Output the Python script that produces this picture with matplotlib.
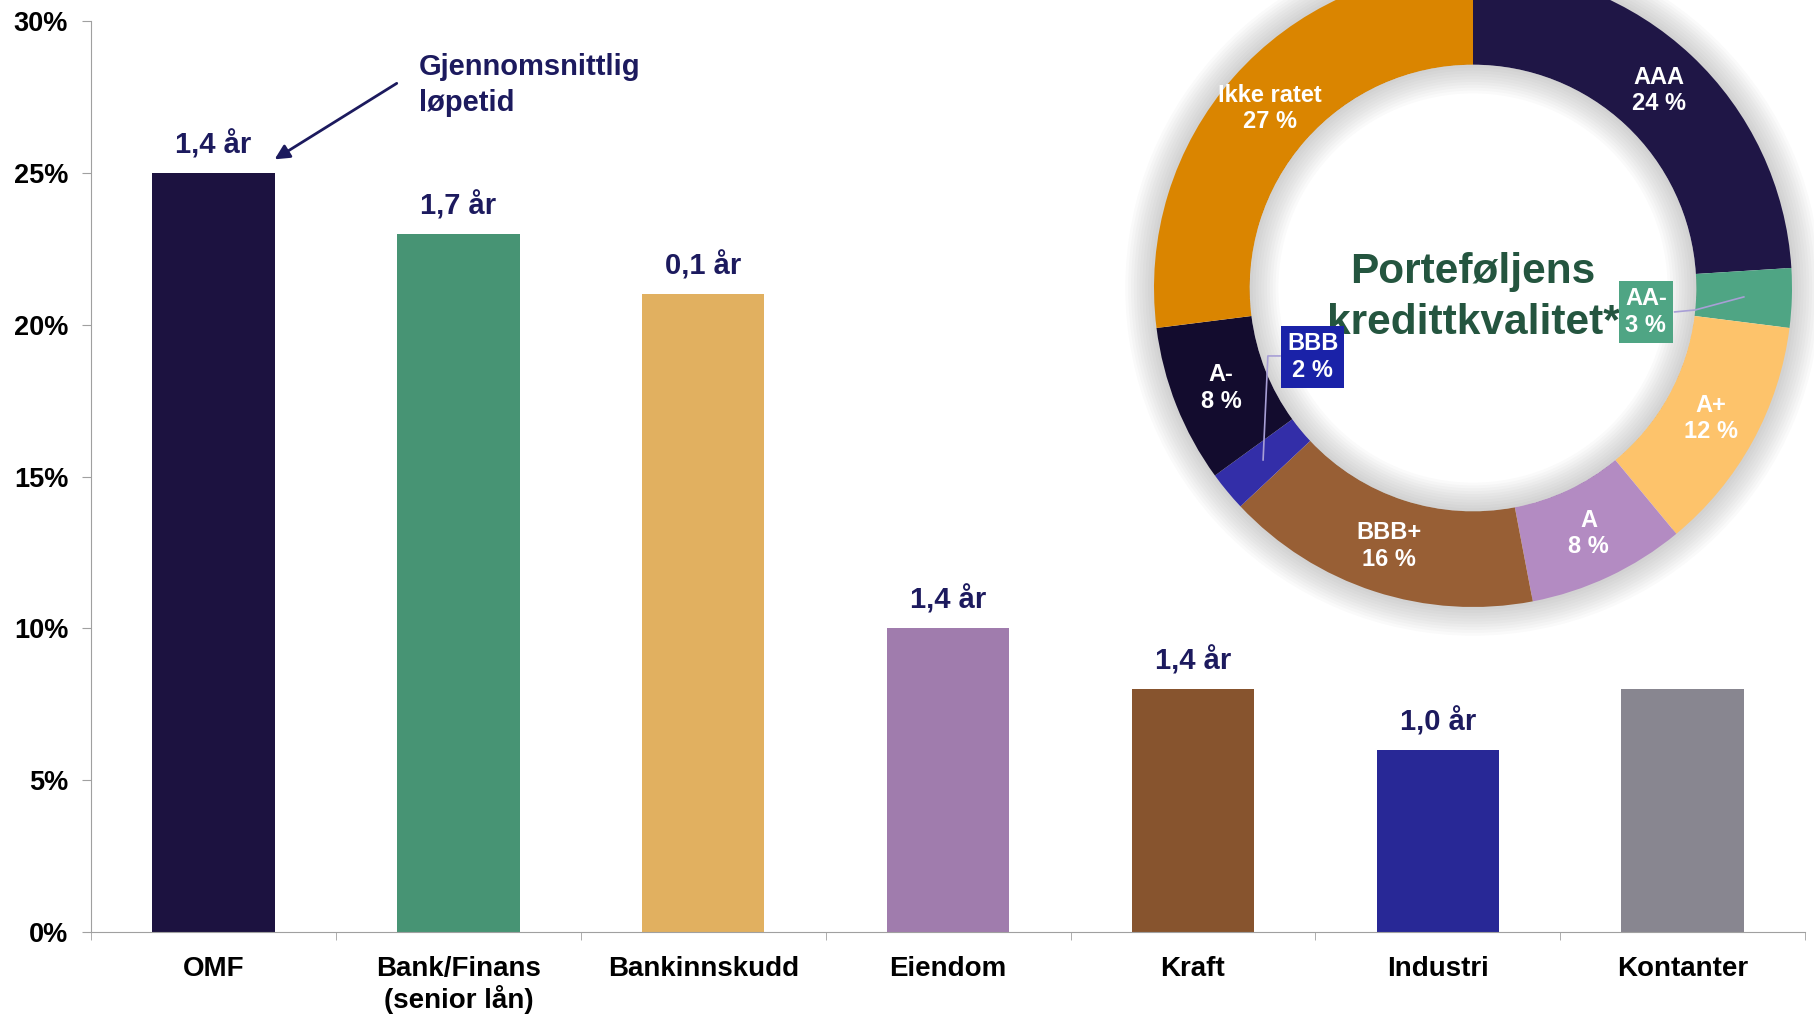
import numpy as np
import matplotlib.pyplot as plt
from matplotlib.patches import Circle, Wedge

plt.rcParams['font.family'] = ['Liberation Sans', 'DejaVu Sans']
plt.rcParams['font.weight'] = 'bold'

#%% data
categories = ['OMF', 'Bank/Finans\n(senior lån)', 'Bankinnskudd', 'Eiendom',
              'Kraft', 'Industri', 'Kontanter']
shares = [25, 23, 21, 10, 8, 6, 8]
durations = ['1,4 år', '1,7 år', '0,1 år', '1,4 år', '1,4 år', '1,0 år', '']
bar_colors = ['#1c1240', '#479474', '#e1b060', '#a07cad', '#87542e', '#282896', '#888690']

ratings = ['AAA', 'AA-', 'A+', 'A', 'BBB+', 'BBB', 'A-', 'Ikke ratet']
rating_pct = [24, 3, 12, 8, 16, 2, 8, 27]
rating_colors = ['#1f1646', '#4fa584', '#fdc36b', '#b38bc2', '#985f35', '#332ea8', '#130c2e', '#da8500']

navy = '#1c1a5e'

#%% bar chart
fig = plt.figure(figsize=(18.14, 10.17), dpi=100)
ax = fig.add_axes([0.0502, 0.0836, 0.9449, 0.8956])

x = np.arange(len(categories))
ax.bar(x, shares, width=0.5, color=bar_colors)

ax.set_xlim(-0.5, len(categories) - 0.5)
ax.set_ylim(0, 30)
ax.set_yticks(range(0, 31, 5))
ax.set_yticklabels([f'{v}%' for v in range(0, 31, 5)], fontsize=19.5)
ax.set_xticks(x)
ax.set_xticklabels(categories, fontsize=20, linespacing=1.15)
ax.set_xticks(np.arange(-0.5, len(categories)), minor=True)
ax.tick_params(axis='x', which='major', length=0, pad=17)
ax.tick_params(axis='x', which='minor', length=6, color='#a0a0a0', direction='out')
ax.tick_params(axis='y', length=6.5, color='#a0a0a0', pad=10)

for s in ['top', 'right']:
    ax.spines[s].set_visible(False)
for s in ['left', 'bottom']:
    ax.spines[s].set_color('#a0a0a0')

for xi, v, d in zip(x, shares, durations):
    if d:
        ax.annotate(d, (xi, v), xytext=(0, 14), textcoords='offset points',
                    ha='center', va='baseline', fontsize=21, color=navy)

ax.annotate('', xy=(0.24, 25.4), xytext=(0.758, 28.0),
            arrowprops=dict(arrowstyle='-|>', color=navy, lw=2, mutation_scale=22))
ax.text(0.84, 28.95, 'Gjennomsnittlig\nløpetid', ha='left', va='top',
        fontsize=21, color=navy, linespacing=1.35)

#%% donut
R_px = 319
cx, cy = 1473, 288
W, H = 1814, 1017
half = 1.1 * R_px
ax2 = fig.add_axes([(cx - half) / W, (H - cy - half) / H, 2 * half / W, 2 * half / H])

# soft shadow outside the ring
for i in range(10):
    r = 1.0 + 0.009 * (i + 1)
    ax2.add_patch(Wedge((0, 0), r, 0, 360, width=r - 0.98, color='#808080',
                        alpha=0.04, lw=0, zorder=0))

wedges, _ = ax2.pie(rating_pct, colors=rating_colors, startangle=90, counterclock=False,
                    radius=1.0, wedgeprops=dict(width=0.3, linewidth=0))

# soft shadow inside the hole
for i in range(10):
    ax2.add_patch(Wedge((0, 0), 0.7, 0, 360, width=0.009 * (i + 1), color='#808080',
                        alpha=0.04, lw=0, zorder=3))

ax2.set_xlim(-1.1, 1.1)
ax2.set_ylim(-1.1, 1.1)
ax2.set_aspect('equal')
ax2.axis('off')

for w, name, p in zip(wedges, ratings, rating_pct):
    if name in ('AA-', 'BBB'):
        continue
    ang = np.deg2rad((w.theta1 + w.theta2) / 2)
    ax2.text(0.85 * np.cos(ang), 0.85 * np.sin(ang), f'{name}\n{p} %', ha='center', va='center',
             color='white', fontsize=17, linespacing=1.2, zorder=5)

# boxed labels with leader lines
lc = '#a89fd6'
ax2.plot([0.632, 0.696, 0.849], [-0.075, -0.069, -0.028], color=lc, lw=1.2, zorder=4)
ax2.plot([-0.605, -0.643, -0.658], [-0.213, -0.213, -0.539], color=lc, lw=1.2, zorder=4)
ax2.text(0.542, -0.075, 'AA-\n3 %', ha='center', va='center', color='white', fontsize=17,
         linespacing=1.2, zorder=6,
         bbox=dict(boxstyle='square,pad=0.25', fc='#4fa584', ec='none'))
ax2.text(-0.502, -0.216, 'BBB\n2 %', ha='center', va='center', color='white', fontsize=17,
         linespacing=1.2, zorder=6,
         bbox=dict(boxstyle='square,pad=0.25', fc='#1a22a8', ec='none'))

ax2.text(0, -0.03, 'Porteføljens\nkredittkvalitet*', ha='center', va='center',
         fontsize=30.5, color='#24553f', linespacing=1.38, zorder=5)

fig.savefig('out.png', dpi=100)
